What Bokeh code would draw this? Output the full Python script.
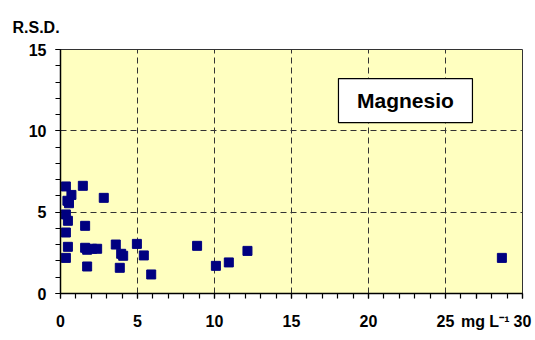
from bokeh.plotting import figure
from bokeh.models import Label, BoxAnnotation, FixedTicker, ColumnDataSource
from bokeh.embed import file_html
from bokeh.resources import INLINE

# Data: concentration (mg L-1) vs R.S.D.
conc = [0.35, 1.45, 0.71, 0.45, 0.55, 2.81, 0.35, 0.48, 1.60, 0.35, 0.48, 0.35,
        1.60, 1.73, 2.05, 2.38, 1.73, 3.59, 3.94, 4.07, 3.85, 4.96, 5.41, 5.89,
        8.87, 10.09, 10.93, 12.14, 28.66]
rsd = [6.58, 6.62, 6.06, 5.70, 5.55, 5.88, 4.86, 4.47, 4.16, 3.75, 2.87, 2.19,
       2.81, 2.69, 2.75, 2.75, 1.66, 3.01, 2.44, 2.32, 1.58, 3.05, 2.34, 1.17,
       2.93, 1.70, 1.91, 2.62, 2.19]
x_ticks = [0, 5, 10, 15, 20, 25, 30]
y_ticks = [0, 5, 10, 15]
minor = list(range(0, 31))
title_text = "Magnesio"
y_title = "R.S.D."
x_title = "mg L\u207b\u00b9"
x_title_at = 27  # sits on a minor-tick position, next to the "30" label

FONT = "Liberation Sans"

p = figure(width=535, height=340, x_range=(0, 30), y_range=(0, 15),
           output_backend="svg", toolbar_location=None,
           min_border_left=60, min_border_right=13, min_border_top=49, min_border_bottom=47)
p.background_fill_color = "#FFFFC0"
p.border_fill_color = "white"
p.outline_line_color = "#333333"
p.outline_line_width = 1

# y title as the plot title, pushed to the left edge
p.title.text = y_title
p.title.align = "left"
p.title.offset = -48
p.title.standoff = 27
p.title.text_font = FONT
p.title.text_font_style = "bold"
p.title.text_font_size = "16px"
p.title.text_color = "black"

p.xaxis[0].ticker = FixedTicker(ticks=x_ticks + [x_title_at], minor_ticks=minor)
p.xaxis[0].major_label_overrides = {x_title_at: "\u00a0\u00a0\u00a0\u00a0" + x_title}
p.yaxis[0].ticker = FixedTicker(ticks=y_ticks, minor_ticks=minor)

for ax in (p.xaxis[0], p.yaxis[0]):
    ax.axis_line_color = "black"
    ax.axis_line_width = 1.5
    ax.major_tick_line_color = "black"
    ax.minor_tick_line_color = "black"
    ax.major_tick_line_width = 1.2
    ax.minor_tick_line_width = 1.2
    ax.major_tick_in = 0
    ax.minor_tick_in = 0
    ax.major_tick_out = 5
    ax.minor_tick_out = 5
    ax.major_label_text_font = FONT
    ax.major_label_text_font_style = "bold"
    ax.major_label_text_font_size = "16px"
    ax.major_label_text_color = "black"
p.xaxis.major_label_standoff = 14
p.yaxis.major_label_standoff = 9

p.xgrid.ticker = FixedTicker(ticks=x_ticks)
p.ygrid.ticker = FixedTicker(ticks=y_ticks)
p.grid.grid_line_color = "#333333"
p.grid.grid_line_dash = "6 4"
p.grid.grid_line_width = 1

src = ColumnDataSource(dict(x=conc, y=rsd))
p.scatter("x", "y", source=src, marker="square", size=9,
          fill_color="#000080", line_color="#000080")

box = BoxAnnotation(left=18.05, right=26.75, bottom=10.51, top=13.21,
                    fill_color="white", fill_alpha=1.0,
                    line_color="black", line_alpha=1.0, line_width=1.2)
p.add_layout(box)
p.add_layout(Label(x=22.4, y=11.86, text=title_text, text_align="center",
                   text_baseline="middle", text_font=FONT, text_font_style="bold",
                   text_font_size="21px", text_color="black"))

open("out.html", "w").write(file_html(p, INLINE))
